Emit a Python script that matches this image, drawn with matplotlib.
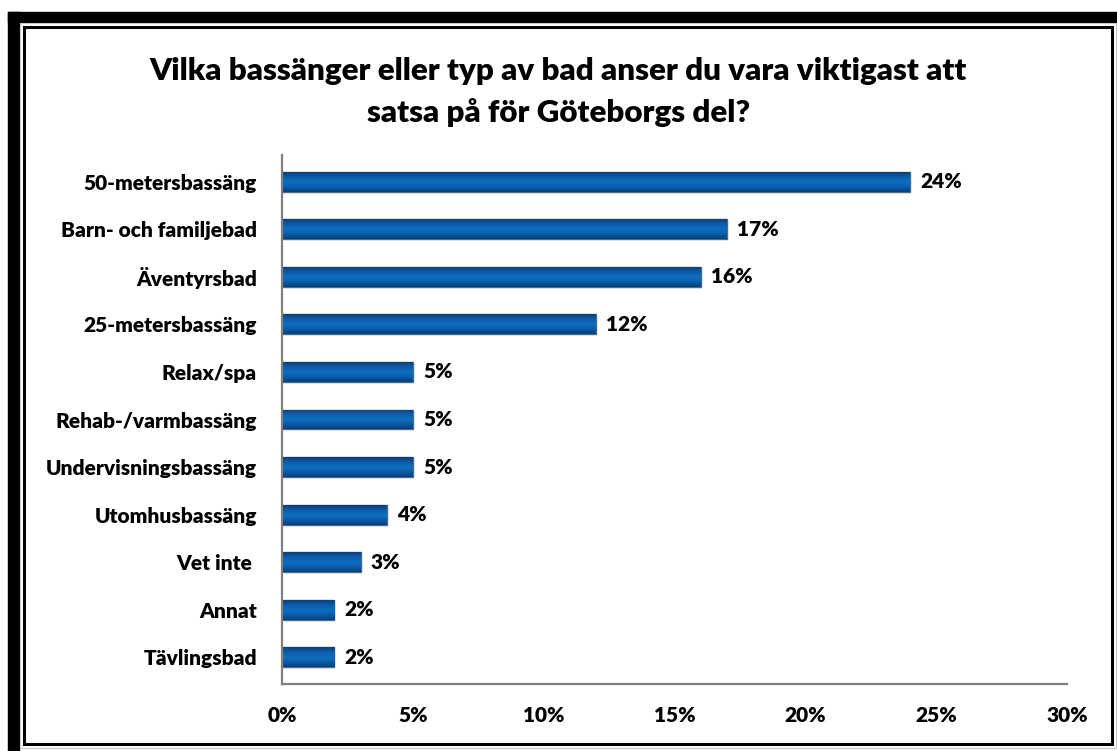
import matplotlib
matplotlib.use('Agg')
import matplotlib.pyplot as plt
from matplotlib.patches import Rectangle
from matplotlib.colors import LinearSegmentedColormap
import numpy as np

# Data
categories = ['50-metersbassäng', 'Barn- och familjebad', 'Äventyrsbad',
              '25-metersbassäng', 'Relax/spa', 'Rehab-/varmbassäng',
              'Undervisningsbassäng', 'Utomhusbassäng', 'Vet inte ',
              'Annat', 'Tävlingsbad']
values = [24, 17, 16, 12, 5, 5, 5, 4, 3, 2, 2]
xticks = [0, 5, 10, 15, 20, 25, 30]
title = 'Vilka bassänger eller typ av bad anser du vara viktigast att\nsatsa på för Göteborgs del?'

plt.rcParams['font.family'] = ['Lato', 'DejaVu Sans']
WEIGHT = 'heavy'

W, H = 1117, 751
fig = plt.figure(figsize=(W / 100, H / 100), dpi=100)

# frame: thick black band top/left, thin inner rectangle
def px_rect(x0, y0, x1, y1, **kw):
    return Rectangle((x0 / W, 1 - y1 / H), (x1 - x0) / W, (y1 - y0) / H,
                     transform=fig.transFigure, **kw)

fig.patches.append(px_rect(8, 12, W, 22, color='black'))
fig.patches.append(px_rect(8, 12, 19, H, color='black'))
fig.patches.append(px_rect(23.5, 26.5, 1111.5, 743.5, fill=False,
                           edgecolor='black', linewidth=2.2))
fig.patches.append(px_rect(19.5, 22.5, 1115.5, 748, fill=False,
                           edgecolor='#c8c8c8', linewidth=0.8))

ax = fig.add_axes([282 / W, 1 - 684 / H, (1067 - 282) / W, (684 - 155) / H])

y = np.arange(len(categories))
bars = ax.barh(y, values, height=0.42, color='#0a5ca8', edgecolor='#56697d',
               linewidth=1.0, zorder=3)

# subtle vertical shading inside each bar (dark edges, lighter centre)
cmap = LinearSegmentedColormap.from_list(
    'barshade', ['#0a3f78', '#0b5dab', '#0f6ebf', '#0b5dab', '#0a3f78'])
grad = np.linspace(0, 1, 64).reshape(-1, 1)
for b in bars:
    im = ax.imshow(grad, cmap=cmap, aspect='auto', zorder=3.5,
                   extent=[b.get_x(), b.get_x() + b.get_width(),
                           b.get_y() + b.get_height(), b.get_y()])
    im.set_clip_path(b)

for yi, v in zip(y, values):
    ax.text(v + 0.4, yi, f'{v}%', va='center', ha='left',
            fontsize=15, fontweight=WEIGHT, color='black')

ax.set_xlim(0, 30)
ax.set_ylim(len(categories) - 0.5 + 0.06, -0.56)
ax.set_yticks(y)
ax.set_yticklabels(categories, fontsize=15, fontweight=WEIGHT)
ax.set_xticks(xticks)
ax.set_xticklabels([f'{t}%' for t in xticks], fontsize=15, fontweight=WEIGHT)
ax.tick_params(axis='both', length=0)
ax.tick_params(axis='y', pad=18)
ax.tick_params(axis='x', pad=16)

for s in ['top', 'right']:
    ax.spines[s].set_visible(False)
for s in ['left', 'bottom']:
    ax.spines[s].set_color('#808080')
    ax.spines[s].set_linewidth(1.6)
    ax.spines[s].set_zorder(4)

fig.text(0.5, 1 - 92 / H, title, ha='center', va='center', fontsize=22.5,
         fontweight=WEIGHT, linespacing=1.55)

fig.savefig('out.png', dpi=100)
